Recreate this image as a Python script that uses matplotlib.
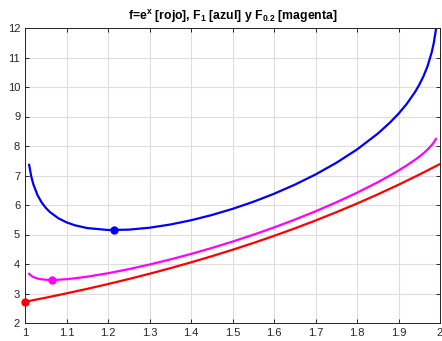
import matplotlib
matplotlib.use("Agg")
import matplotlib.pyplot as plt

# f = e^x (red)
x_red = [1.00, 1.05, 1.10, 1.15, 1.20, 1.25, 1.30, 1.35, 1.40, 1.45, 1.50,
         1.55, 1.60, 1.65, 1.70, 1.75, 1.80, 1.85, 1.90, 1.95, 2.00]
y_red = [2.7183, 2.8577, 3.0042, 3.1582, 3.3201, 3.4903, 3.6693, 3.8574, 4.0552,
         4.2631, 4.4817, 4.7115, 4.9530, 5.2070, 5.4739, 5.7546, 6.0496, 6.3598,
         6.6859, 7.0287, 7.3891]

# F_1 (blue) and F_0.2 (magenta)
x_F = [1.01, 1.015, 1.02, 1.03, 1.04, 1.05, 1.06, 1.08, 1.10, 1.12, 1.15, 1.20,
       1.25, 1.30, 1.35, 1.40, 1.45, 1.50, 1.55, 1.60, 1.65, 1.70, 1.75, 1.80,
       1.85, 1.88, 1.90, 1.92, 1.94, 1.95, 1.96, 1.97, 1.98, 1.985, 1.99]
y_blue = [7.3608, 6.9741, 6.7054, 6.3382, 6.0889, 5.9047, 5.7617, 5.5538, 5.4122,
          5.3130, 5.2178, 5.1527, 5.1643, 5.2300, 5.3380, 5.4823, 5.6594, 5.8680,
          6.1078, 6.3801, 6.6876, 7.0346, 7.4286, 7.8822, 8.4194, 8.8016, 9.0939,
          9.4301, 9.8341, 10.0757, 10.3590, 10.7078, 11.1749, 11.4938, 11.9307]
y_mag = [3.6686, 3.6023, 3.5596, 3.5085, 3.4811, 3.4671, 3.4615, 3.4665, 3.4858,
         3.5145, 3.5701, 3.6866, 3.8251, 3.9814, 4.1535, 4.3406, 4.5424, 4.7590,
         4.9908, 5.2384, 5.5031, 5.7860, 6.0894, 6.4161, 6.7717, 7.0031, 7.1675,
         7.3428, 7.5339, 7.6381, 7.7512, 7.8781, 8.0291, 8.1220, 8.2385]

# highlighted points (minima / start)
pt_x = [1.0, 1.2146, 1.0643]
pt_y = [2.7183, 5.150, 3.461]
colors = ["#ff0000", "#0000ff", "#ff00ff"]

xticks = [1, 1.1, 1.2, 1.3, 1.4, 1.5, 1.6, 1.7, 1.8, 1.9, 2]
xticklabels = ["1", "1.1", "1.2", "1.3", "1.4", "1.5", "1.6", "1.7", "1.8", "1.9", "2"]
yticks = [2, 3, 4, 5, 6, 7, 8, 9, 10, 11, 12]

plt.rcParams['font.family'] = ['Liberation Sans', 'DejaVu Sans']
plt.rcParams['mathtext.fontset'] = 'custom'
plt.rcParams['mathtext.rm'] = 'Liberation Sans:bold'
plt.rcParams['mathtext.it'] = 'Liberation Sans:bold'
plt.rcParams['mathtext.bf'] = 'Liberation Sans:bold'

fig = plt.figure(figsize=(4.42, 3.41), dpi=100)
ax = fig.add_axes([25/442, 18/341, 415/442, 295/341])

ax.plot(x_red, y_red, color=colors[0], lw=1.6)
ax.plot(x_F, y_blue, color=colors[1], lw=1.6)
ax.plot(x_F, y_mag, color=colors[2], lw=1.6)
for px, py, c in zip(pt_x, pt_y, colors):
    ax.plot([px], [py], 'o', color=c, ms=5, clip_on=False, zorder=5)

ax.set_xlim(1, 2)
ax.set_ylim(2, 12)
ax.set_xticks(xticks)
ax.set_xticklabels(xticklabels)
ax.set_yticks(yticks)
ax.grid(True, color="#dedede", lw=0.8)
ax.set_axisbelow(True)
ax.tick_params(direction='in', top=True, right=True, length=3, width=0.7,
               labelsize=8, colors='#262626', pad=3.5)
for s in ax.spines.values():
    s.set_color('#262626')
    s.set_linewidth(0.7)

ax.set_title(r"f=e$^{\mathrm{x}}$ [rojo], F$_{\mathrm{1}}$ [azul] y F$_{\mathrm{0.2}}$ [magenta]",
             fontsize=8.8, fontweight='bold', pad=6)

fig.savefig("out.png", dpi=100)
